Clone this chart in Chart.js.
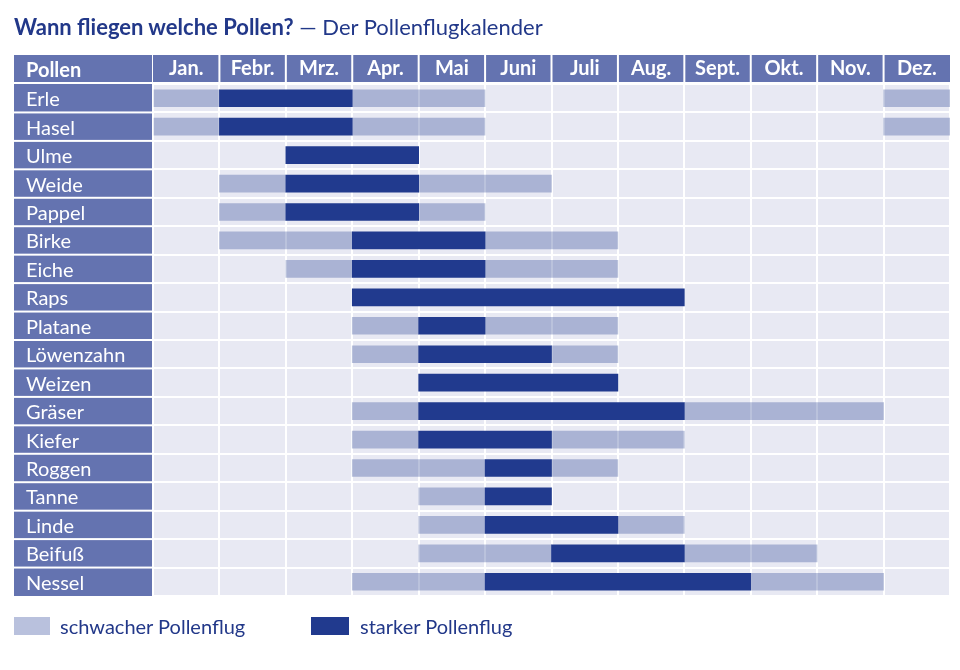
<!DOCTYPE html>
<html lang="de">
<head>
<meta charset="utf-8">
<script src="https://cdn.jsdelivr.net/npm/chart.js@4/dist/chart.umd.min.js"></script>
<style>
  html, body { margin: 0; padding: 0; background: #ffffff; }
  body { width: 960px; height: 670px; position: relative; overflow: hidden; font-family: Lato, "Noto Sans", sans-serif; }
  #title { position: absolute; left: 14px; top: 13px; font-size: 22px; color: #223889; white-space: nowrap; }
  #title b { font-weight: 700; }
  #wrap { position: absolute; left: 0; top: 0; width: 960px; height: 670px; }
  .legend { position: absolute; top: 614px; left: 14px; font-size: 20px; color: #223889; display: flex; align-items: center; }
  .legend .box { width: 36px; height: 18px; margin-right: 10px; }
</style>
</head>
<body>
<div id="wrap"><canvas id="c" width="960" height="670"></canvas></div>
<div id="title"><b>Wann fliegen welche Pollen?</b> — Der Pollenflugkalender</div>
<div class="legend" style="left:14px"><span class="box" style="background:#b9c1dd"></span>schwacher Pollenflug</div>
<div class="legend" style="left:311px"><span class="box" style="background:#213a8e;width:38px;margin-right:11px"></span>starker Pollenflug</div>
<script>
// ---- data ----
const months = ['Jan.', 'Febr.', 'Mrz.', 'Apr.', 'Mai', 'Juni', 'Juli', 'Aug.', 'Sept.', 'Okt.', 'Nov.', 'Dez.'];
const plants = ['Erle', 'Hasel', 'Ulme', 'Weide', 'Pappel', 'Birke', 'Eiche', 'Raps', 'Platane', 'Löwenzahn',
                'Weizen', 'Gräser', 'Kiefer', 'Roggen', 'Tanne', 'Linde', 'Beifuß', 'Nessel'];
// periods as [start month, end month] (0 = start of January, 12 = end of December)
const weakPeriods = [
  [[0, 1], [3, 5], [11, 12]], // Erle
  [[0, 1], [3, 5], [11, 12]], // Hasel
  [],                         // Ulme
  [[1, 2], [4, 6]],           // Weide
  [[1, 2], [4, 5]],           // Pappel
  [[1, 3], [5, 7]],           // Birke
  [[2, 3], [5, 7]],           // Eiche
  [],                         // Raps
  [[3, 4], [5, 7]],           // Platane
  [[3, 4], [6, 7]],           // Löwenzahn
  [],                         // Weizen
  [[3, 4], [8, 11]],          // Gräser
  [[3, 4], [6, 8]],           // Kiefer
  [[3, 5], [6, 7]],           // Roggen
  [[4, 5]],                   // Tanne
  [[4, 5], [7, 8]],           // Linde
  [[4, 6], [8, 10]],          // Beifuß
  [[3, 5], [9, 11]]           // Nessel
];
const strongPeriods = [
  [[1, 3]], [[1, 3]], [[2, 4]], [[2, 4]], [[2, 4]], [[3, 5]], [[3, 5]], [[3, 8]], [[4, 5]], [[4, 6]],
  [[4, 7]], [[4, 8]], [[4, 6]], [[5, 6]], [[5, 6]], [[5, 7]], [[6, 8]], [[5, 9]]
];
const headerLabel = 'Pollen';

// ---- styles ----
const FONT = 'Lato, "Noto Sans", sans-serif';
const C_HEAD = '#6473b0';
const C_CELL = '#e8e9f3';
const C_STRONG = '#213a8e';
const C_WEAK = 'rgba(33,58,142,0.31)';

function toPoints(periods) {
  const out = [];
  periods.forEach((list, i) => list.forEach(p => out.push({ y: plants[i], x: [p[0], p[1]] })));
  return out;
}

const backgroundPlugin = {
  id: 'tableBackground',
  beforeDraw(chart) {
    const { ctx, chartArea } = chart;
    const y = chart.scales.y, x2 = chart.scales.x2;
    const colLeft = 14, colRight = chartArea.left - 1;
    const headTop = x2.top, headBottom = chartArea.top - 2;
    ctx.save();
    // plot cells background
    ctx.fillStyle = C_CELL;
    ctx.fillRect(chartArea.left, chartArea.top, chartArea.right - chartArea.left, chartArea.bottom - chartArea.top);
    // header cells
    ctx.fillStyle = C_HEAD;
    ctx.fillRect(colLeft, headTop, colRight - colLeft, headBottom - headTop);
    const step = (chartArea.right - chartArea.left) / months.length;
    months.forEach((m, i) => {
      const c = x2.getPixelForValue(i);
      const l = i === 0 ? chartArea.left : c - step / 2 + 1;
      const r = c + step / 2 - 1;
      ctx.fillRect(l, headTop, (i === months.length - 1 ? chartArea.right : r) - l, headBottom - headTop);
    });
    // left column cells
    const rowStep = (chartArea.bottom - chartArea.top) / plants.length;
    plants.forEach((p, i) => {
      const c = y.getPixelForValue(i);
      const t = c - rowStep / 2 + 1, b = c + rowStep / 2 - 1;
      ctx.fillRect(colLeft, i === 0 ? chartArea.top : t, colRight - colLeft, (i === plants.length - 1 ? chartArea.bottom : b) - (i === 0 ? chartArea.top : t));
    });
    // corner label
    ctx.fillStyle = '#ffffff';
    ctx.font = 'bold 20px ' + FONT;
    ctx.textBaseline = 'middle';
    ctx.textAlign = 'left';
    ctx.fillText(headerLabel, 26, (headTop + headBottom) / 2 + 2);
    ctx.restore();
  }
};

new Chart(document.getElementById('c'), {
  type: 'bar',
  data: {
    labels: plants,
    datasets: [
      { label: 'schwacher Pollenflug', data: toPoints(weakPeriods), backgroundColor: C_WEAK, barThickness: 17, grouped: false, order: 2 },
      { label: 'starker Pollenflug', data: toPoints(strongPeriods), backgroundColor: C_STRONG, barThickness: 17, grouped: false, order: 1 }
    ]
  },
  options: {
    indexAxis: 'y',
    responsive: false,
    animation: false,
    devicePixelRatio: 1,
    layout: { padding: { left: 26, top: 55, right: 10, bottom: 74 } },
    plugins: { legend: { display: false }, tooltip: { enabled: false } },
    scales: {
      x: {
        type: 'linear', min: 0, max: 12, position: 'bottom',
        ticks: { display: false, stepSize: 1 },
        grid: { color: '#ffffff', lineWidth: 2, drawTicks: false },
        border: { display: false }
      },
      x2: {
        type: 'category', labels: months, position: 'top', offset: true,
        grid: { display: false, drawTicks: false },
        border: { display: false },
        ticks: { color: '#ffffff', font: { family: FONT, size: 20, weight: 'bold' }, padding: 3, maxRotation: 0, autoSkip: false },
        afterFit(s) { s.height = 29; }
      },
      y: {
        type: 'category', position: 'left', offset: true,
        grid: { color: '#ffffff', lineWidth: 2, offset: true, drawTicks: false },
        border: { display: false },
        ticks: { color: '#ffffff', font: { family: FONT, size: 20 }, crossAlign: 'far', autoSkip: false, padding: 0, labelOffset: 1.5 },
        afterFit(s) { s.width = 127; }
      }
    }
  },
  plugins: [backgroundPlugin]
});
</script>
</body>
</html>
